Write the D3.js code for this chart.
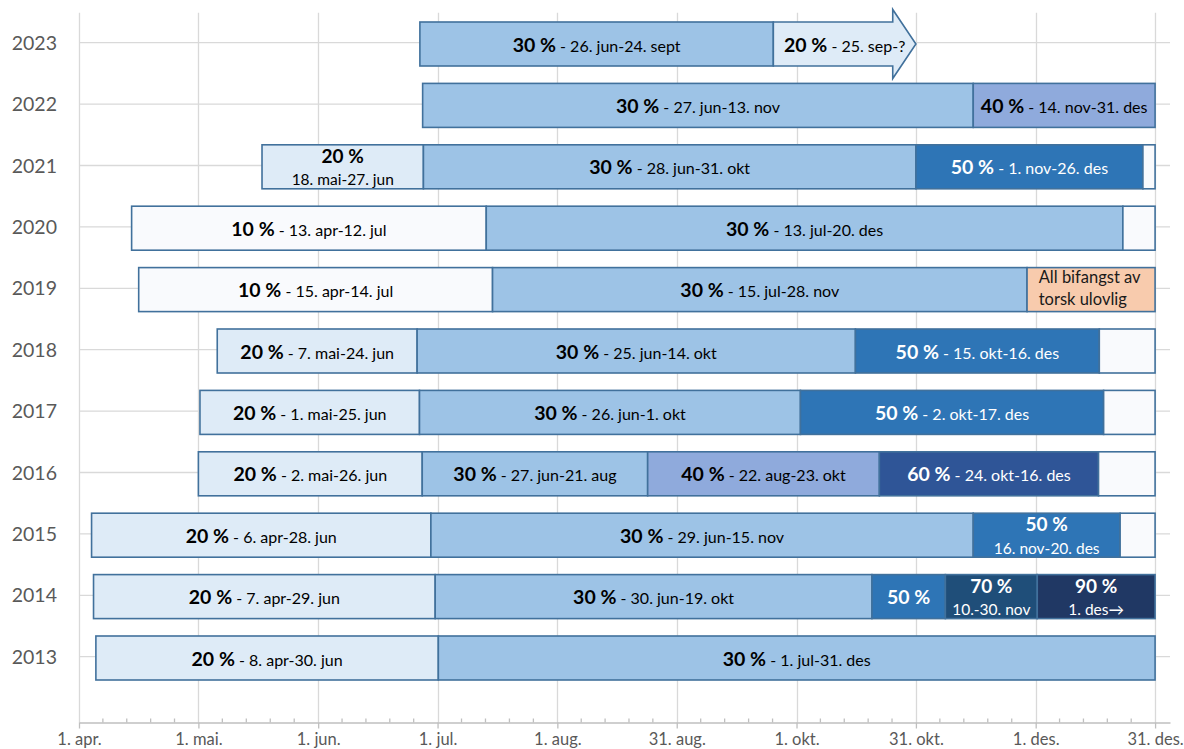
<!DOCTYPE html>
<html>
<head>
<meta charset="utf-8">
<script src="https://cdn.jsdelivr.net/npm/d3@7"></script>
<style>
  html, body { margin: 0; padding: 0; background: #ffffff; }
  svg { display: block; font-family: "Lato", "Open Sans", sans-serif; }
</style>
</head>
<body>
<svg id="chart" width="1184" height="749"></svg>
<script>
// ---- DATA (days counted from 1. april) ----
const years = ["2023","2022","2021","2020","2019","2018","2017","2016","2015","2014","2013"];

// segment edges per year (start of first segment ... end of last)
const edges = [
  [86.8, 176.8, 213.1],
  [87.5, 227.7, 274],
  [46.6, 87.7, 213.1, 270.9, 274],
  [13.4, 103.7, 265.8, 274],
  [15.2, 105.3, 241.4, 274],
  [35.2, 86.1, 197.7, 259.8, 274],
  [30.8, 86.7, 183.7, 260.9, 274],
  [30.4, 87.4, 144.8, 203.8, 259.6, 274],
  [3.2, 89.6, 227.7, 265.1, 274],
  [3.7, 90.7, 201.9, 220.6, 244.0, 274],
  [4.3, 91.5, 274]
];

// catch rate of each segment ("" = no rule, "ban" = all bycatch illegal)
const rates = [
  ["30 %","20 %"],
  ["30 %","40 %"],
  ["20 %","30 %","50 %",""],
  ["10 %","30 %",""],
  ["10 %","30 %","ban"],
  ["20 %","30 %","50 %",""],
  ["20 %","30 %","50 %",""],
  ["20 %","30 %","40 %","60 %",""],
  ["20 %","30 %","50 %",""],
  ["20 %","30 %","50 %","70 %","90 %"],
  ["20 %","30 %"]
];

// period text of each segment
const periods = [
  ["26. jun-24. sept","25. sep-?"],
  ["27. jun-13. nov","14. nov-31. des"],
  ["18. mai-27. jun","28. jun-31. okt","1. nov-26. des",""],
  ["13. apr-12. jul","13. jul-20. des",""],
  ["15. apr-14. jul","15. jul-28. nov",""],
  ["7. mai-24. jun","25. jun-14. okt","15. okt-16. des",""],
  ["1. mai-25. jun","26. jun-1. okt","2. okt-17. des",""],
  ["2. mai-26. jun","27. jun-21. aug","22. aug-23. okt","24. okt-16. des",""],
  ["6. apr-28. jun","29. jun-15. nov","16. nov-20. des",""],
  ["7. apr-29. jun","30. jun-19. okt","","10.-30. nov","1. des\u2192"],
  ["8. apr-30. jun","1. jul-31. des"]
];

// segments whose label is written on two lines  (year-segmentIndex)
const twoLine = ["2021-0","2015-2","2014-3","2014-4"];
const banText = ["All bifangst av","torsk ulovlig"];
const openRow = "2023";       // last segment of this year drawn as an arrow
const arrowHeadStart = 207.2; // where the arrow head begins

const tickDays   = [0, 30.4, 60.9, 91.3, 121.8, 152.2, 182.7, 213.1, 243.6, 274];
const tickLabels = ["1. apr.","1. mai.","1. jun.","1. jul.","1. aug.","31. aug.","1. okt.","31. okt.","1. des.","31. des."];

// ---- STYLE ----
const fills = {
  "": "#F9FAFD", "10 %": "#F9FAFD", "20 %": "#DEEBF7", "30 %": "#9DC3E6",
  "40 %": "#8FAADC", "50 %": "#2E75B6", "60 %": "#2F5597", "70 %": "#1F4E79",
  "90 %": "#203864", "ban": "#F8CBAD"
};
const darkRates = new Set(["50 %","60 %","70 %","90 %"]);
const stroke = "#41719C";

const svg = d3.select("#chart");
const x = d3.scaleLinear().domain([0, 277.8]).range([79, 1170]);
const y = d3.scalePoint().domain(years).range([42.7, 656.7]);
const axisY = 722.5, gridTop = 12.7, barH = 44, barShift = 1.3;

// gridlines
const grid = svg.append("g");
grid.selectAll("line.v").data(tickDays).join("line")
  .attr("x1", d => Math.round(x(d)) + 0.5).attr("x2", d => Math.round(x(d)) + 0.5)
  .attr("y1", gridTop).attr("y2", axisY)
  .attr("stroke", "#D9D9D9").attr("stroke-width", 1.3);
grid.selectAll("line.h").data(years).join("line")
  .attr("x1", x(0)).attr("x2", x.range()[1])
  .attr("y1", d => y(d)).attr("y2", d => y(d))
  .attr("stroke", "#D9D9D9").attr("stroke-width", 1.3);

// year labels
svg.append("g").selectAll("text").data(years).join("text")
  .attr("x", 57).attr("y", d => y(d) + 7)
  .attr("text-anchor", "end").attr("font-size", 19.5).attr("fill", "#595959")
  .text(d => d);

// x axis
const axisG = svg.append("g").attr("transform", `translate(0,${axisY})`)
  .call(d3.axisBottom(x).tickValues(tickDays).tickFormat((d, i) => tickLabels[i])
    .tickSize(6).tickSizeOuter(0));
axisG.select(".domain").attr("stroke", "#BFBFBF").attr("stroke-width", 1.3);
axisG.selectAll(".tick line").attr("stroke", "#BFBFBF").attr("stroke-width", 1.3);
axisG.selectAll(".tick text").attr("y", 22).attr("dy", 0)
  .attr("font-size", 16.5).attr("fill", "#595959").attr("font-family", "Lato, sans-serif");

const minor = [];
for (let i = 0; i < tickDays.length - 1; i++) {
  for (let k = 1; k < 5; k++) minor.push(tickDays[i] + (tickDays[i + 1] - tickDays[i]) * k / 5);
}
svg.append("g").selectAll("line").data(minor).join("line")
  .attr("x1", d => x(d)).attr("x2", d => x(d))
  .attr("y1", axisY - 4).attr("y2", axisY)
  .attr("stroke", "#BFBFBF").attr("stroke-width", 1.3);

// segments
const segs = [];
years.forEach((yr, r) => {
  rates[r].forEach((rate, s) => {
    segs.push({ yr, s, rate, period: periods[r][s], x0: edges[r][s], x1: edges[r][s + 1] });
  });
});

const barsG = svg.append("g");
segs.forEach(d => {
  const cy = y(d.yr) + barShift;
  const isArrow = d.yr === openRow && d.s === rates[years.indexOf(d.yr)].length - 1;
  if (isArrow) {
    const hs = x(arrowHeadStart), tip = x(d.x1), x0 = x(d.x0);
    const pts = [[x0, cy - barH / 2], [hs, cy - barH / 2], [hs, cy - 34.5], [tip, cy],
                 [hs, cy + 34.5], [hs, cy + barH / 2], [x0, cy + barH / 2]];
    barsG.append("path").attr("d", "M" + pts.map(p => p.join(",")).join("L") + "Z")
      .attr("fill", fills[d.rate]).attr("stroke", stroke).attr("stroke-width", 1.6)
      .attr("stroke-linejoin", "miter");
  } else {
    barsG.append("rect")
      .attr("x", x(d.x0)).attr("y", cy - barH / 2)
      .attr("width", x(d.x1) - x(d.x0)).attr("height", barH)
      .attr("fill", fills[d.rate]).attr("stroke", stroke).attr("stroke-width", 1.6);
  }
});

// labels
const labG = svg.append("g");
segs.forEach(d => {
  if (d.rate === "") return;
  const cy = y(d.yr) + barShift;
  const cx = (x(d.x0) + x(d.x1)) / 2;
  const col = darkRates.has(d.rate) ? "#FFFFFF" : "#000000";
  if (d.rate === "ban") {
    banText.forEach((t, i) => {
      labG.append("text").attr("x", x(d.x0) + 11.7).attr("y", cy + (i === 0 ? -7 : 15))
        .attr("font-size", 16.5).attr("fill", "#1a1a1a").text(t);
    });
    return;
  }
  const key = d.yr + "-" + d.s;
  if (twoLine.includes(key)) {
    labG.append("text").attr("x", cx).attr("y", cy - 4).attr("text-anchor", "middle")
      .attr("font-size", 19).attr("font-weight", 700).attr("fill", col).text(d.rate);
    labG.append("text").attr("x", cx).attr("y", cy + 18.5).attr("text-anchor", "middle")
      .attr("font-size", 15.5).attr("fill", col).text(d.period);
  } else if (d.period === "") {
    labG.append("text").attr("x", cx).attr("y", cy + 7.5).attr("text-anchor", "middle")
      .attr("font-size", 19.5).attr("font-weight", 700).attr("fill", col).text(d.rate);
  } else {
    const t = labG.append("text").attr("x", cx).attr("y", cy + 7.5)
      .attr("text-anchor", "middle").attr("fill", col);
    t.append("tspan").attr("font-size", 19.5).attr("font-weight", 700).text(d.rate);
    t.append("tspan").attr("font-size", 16).text(" - " + d.period);
  }
});
</script>
</body>
</html>
